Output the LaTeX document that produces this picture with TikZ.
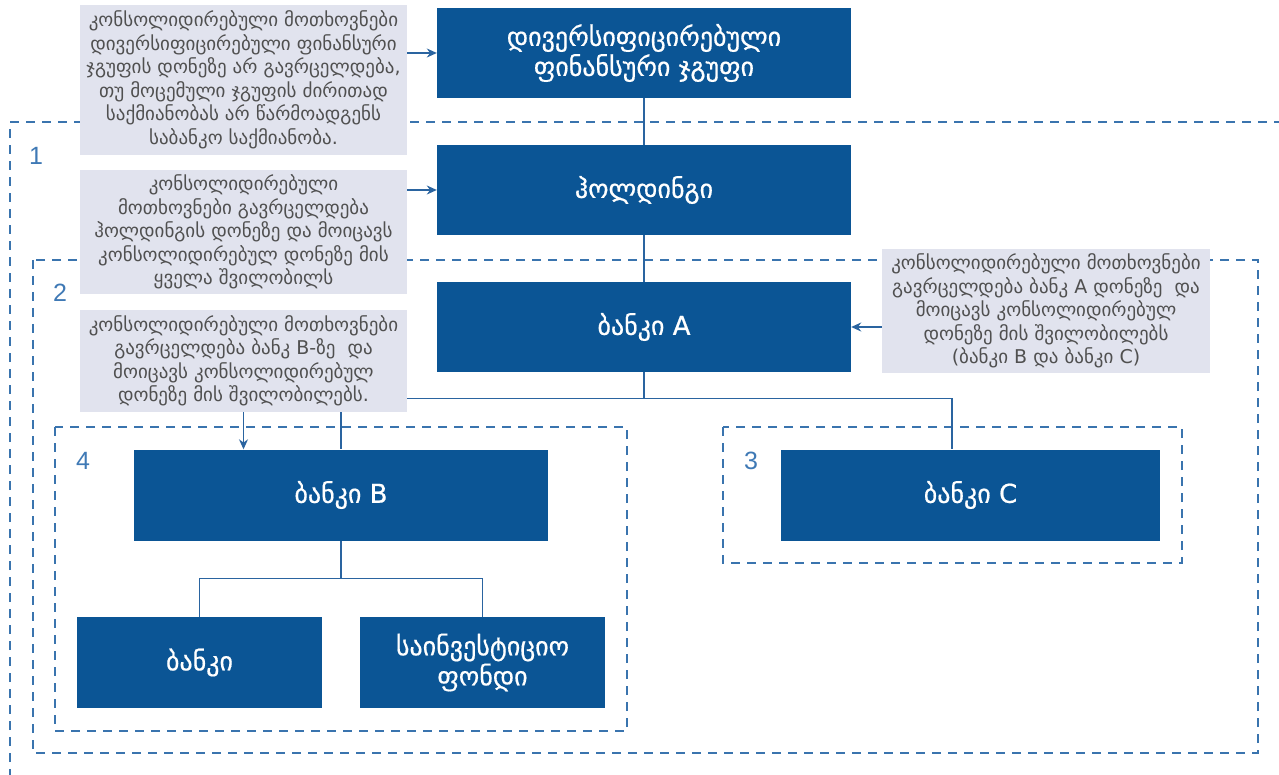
\documentclass[tikz,border=0pt]{standalone}
\usepackage{fontspec}
\setmainfont{DejaVu Sans}
\newfontfamily\numfont{Liberation Sans}
\newfontfamily\titlefont[FakeBold=0.6]{DejaVu Sans}
\usetikzlibrary{arrows.meta,backgrounds,calc}
\definecolor{boxblue}{HTML}{0B5595}
\definecolor{notegrey}{HTML}{E1E3EE}
\definecolor{notetext}{HTML}{505050}
\definecolor{dashblue}{HTML}{3A74AE}
\definecolor{numblue}{HTML}{3F79B5}
\definecolor{lineblue}{HTML}{2A64A0}
\tikzset{
  bluebox/.style={rectangle, fill=boxblue, text=white, inner sep=0pt,
    align=center, font=\titlefont\fontsize{26}{30}\selectfont},
  notebox/.style={rectangle, fill=notegrey, text=notetext, inner sep=0pt,
    align=center, font=\fontsize{19}{23.5}\selectfont},
  frame/.style={draw=dashblue, line width=1.4pt, dash pattern=on 9pt off 7pt},
  conn/.style={draw=lineblue, line width=1.2pt},
  arr/.style={draw=lineblue, line width=1.2pt, -{Stealth[length=10pt,width=9pt]}},
  framenum/.style={text=numblue, font=\numfont\fontsize{25}{25}\selectfont, inner sep=0pt}
}
\begin{document}
\begin{tikzpicture}[x=1pt,y=-1pt]
\useasboundingbox (0,0) rectangle (1279,775);

% blue boxes
\node[bluebox, minimum width=414pt, minimum height=90pt] (grp) at (644,53)
  {დივერსიფიცირებული\\ფინანსური ჯგუფი};
\node[bluebox, minimum width=414pt, minimum height=90pt] (hold) at (644,190) {ჰოლდინგი};
\node[bluebox, minimum width=414pt, minimum height=90pt] (bankA) at (644,327) {ბანკი A};
\node[bluebox, minimum width=414pt, minimum height=91pt] (bankB) at (341,495) {ბანკი B};
\node[bluebox, minimum width=379pt, minimum height=91pt] (bankC) at (970.5,495) {ბანკი C};
\node[bluebox, minimum width=245pt, minimum height=91pt] (bank) at (199.5,662.5) {ბანკი};
\node[bluebox, minimum width=245pt, minimum height=91pt] (fund) at (482.5,662.5)
  {საინვესტიციო\\ფონდი};

% notes
\node[notebox, minimum width=327pt, minimum height=150pt] (n1) at (243.5,80)
  {კონსოლიდირებული მოთხოვნები\\დივერსიფიცირებული ფინანსური\\ჯგუფის დონეზე არ გავრცელდება,\\თუ მოცემული ჯგუფის ძირითად\\საქმიანობას არ წარმოადგენს\\საბანკო საქმიანობა.};
\node[notebox, minimum width=327pt, minimum height=124pt] (n2) at (243.5,232)
  {კონსოლიდირებული\\მოთხოვნები გავრცელდება\\ჰოლდინგის დონეზე და მოიცავს\\კონსოლიდირებულ დონეზე მის\\ყველა შვილობილს};
\node[notebox, minimum width=327pt, minimum height=102pt] (n3) at (243.5,361)
  {კონსოლიდირებული მოთხოვნები\\გავრცელდება ბანკ B-ზე \ და\\მოიცავს კონსოლიდირებულ\\დონეზე მის შვილობილებს.};
\node[notebox, minimum width=328pt, minimum height=124pt] (nA) at (1046,311)
  {კონსოლიდირებული მოთხოვნები\\გავრცელდება ბანკ A დონეზე \ და\\მოიცავს კონსოლიდირებულ\\დონეზე მის შვილობილებს\\(ბანკი B და ბანკი C)};

% frame numbers
\node[framenum] (f1) at (36,156) {1};
\node[framenum] (f2) at (60,293) {2};
\node[framenum] (f4) at (83,461) {4};
\node[framenum] (f3) at (751,461) {3};

\begin{pgfonlayer}{background}
  % dashed frames
  \draw[frame] (10,778) -- (10,122) -- (1282,122);
  \draw[frame] (33,260) rectangle (1258,753);
  \draw[frame] (55,427) rectangle (627,731);
  \draw[frame] (723,427) rectangle (1182,563);
  % connectors
  \draw[conn] (grp.south) -- (hold.north);
  \draw[conn] (hold.south) -- (bankA.north);
  \coordinate (jA) at ($(bankA.south)+(0,26)$);
  \coordinate (cC) at ($(bankC.north)+(-18.5,0)$);
  \draw[conn] (bankA.south) -- (jA) -| (bankB.north);
  \draw[conn] (jA) -| (cC);
  \coordinate (jB) at ($(bankB.south)+(0,38)$);
  \draw[conn] (bankB.south) -- (jB) -| (bank.north);
  \draw[conn] (jB) -| (fund.north);
\end{pgfonlayer}

% arrows
\draw[arr] (n1.east |- grp.west) -- (grp.west);
\draw[arr] (n2.east |- hold.west) -- (hold.west);
\draw[arr] (nA.west |- bankA.east) -- (bankA.east);
\draw[arr] (n3.south) -- (n3.south |- bankB.north);
\end{tikzpicture}
\end{document}
